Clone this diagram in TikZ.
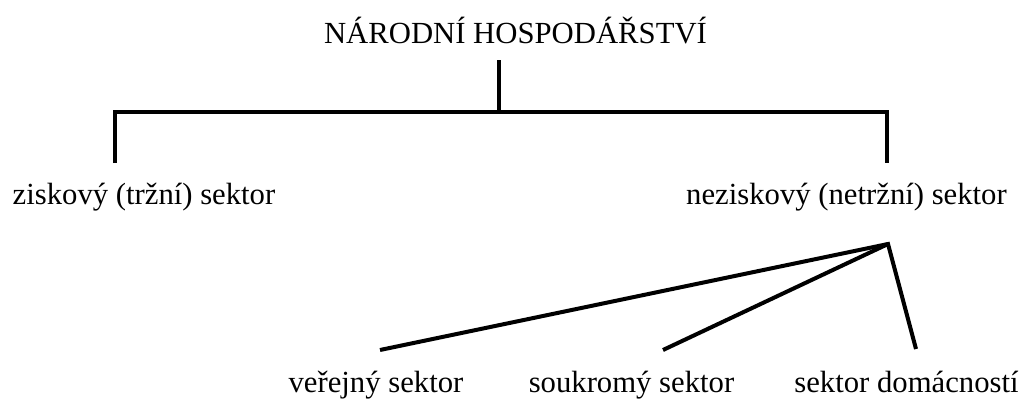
\documentclass[tikz,border=0pt]{standalone}
\usepackage{fontspec}
\setmainfont{Liberation Serif}
\tikzset{
  lbl/.style={inner sep=0pt, anchor=base, font=\fontsize{30.7}{34}\selectfont},
  conn/.style={line width=4pt, line join=miter},
}
\begin{document}
\begin{tikzpicture}[x=1pt,y=-1pt]
\useasboundingbox (0,0) rectangle (1024,399);
\node[lbl] (title) at (515.5,43) {NÁRODNÍ HOSPODÁŘSTVÍ};
\node[lbl] (zisk) at (144,204) {ziskový (tržní) sektor};
\node[lbl] (nezisk) at (846.5,204) {neziskový (netržní) sektor};
\node[lbl] (ver) at (376,392) {veřejný sektor};
\node[lbl] (souk) at (631.5,392) {soukromý sektor};
\node[lbl] (dom) at (906.5,392) {sektor domácností};
\coordinate (top) at (499,60);
\coordinate (bar) at (499,112);
\coordinate (lc) at (115,112);
\coordinate (rc) at (887,112);
\coordinate (lb) at (115,163);
\coordinate (rb) at (887,163);
\coordinate (ap) at (888,244);
\coordinate (ve) at (380,350);
\coordinate (se) at (663,350);
\coordinate (de) at (916,349);
\draw[conn] (top) -- (bar);
\draw[conn] (lb) -- (lc) -- (rc) -- (rb);
\draw[conn] (ve) -- (ap) -- (de);
\draw[conn] (se) -- (ap);
\end{tikzpicture}
\end{document}
